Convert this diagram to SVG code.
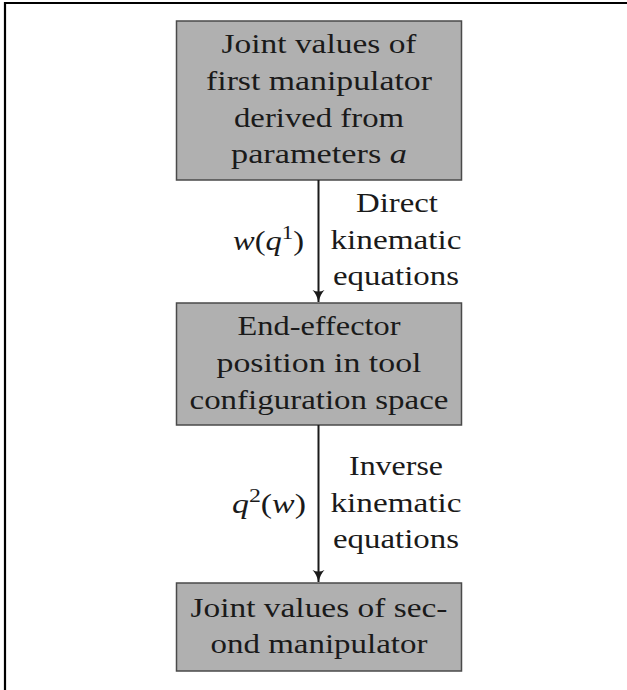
<svg xmlns="http://www.w3.org/2000/svg" width="627" height="690" viewBox="0 0 627 690">
  <style>
    .box { fill: #b0b0b0; stroke: #4a4a4a; stroke-width: 1.5; }
    text { font-family: 'Liberation Serif', 'Times New Roman', serif; font-size: 27px; fill: #1a1a1a; }
    .t { text-anchor: middle; }
    .m { font-style: italic; }
    .edge { stroke: #1a1a1a; stroke-width: 2; fill: none; }
    .frame { stroke: #000; stroke-width: 2.2; fill: none; }
  </style>
  <defs>
    <marker id="arrow" markerUnits="userSpaceOnUse" markerWidth="14" markerHeight="16" refX="12" refY="6" orient="auto">
      <path d="M0,0 Q4,4 12,6 Q4,8 0,12 Q3,6 0,0 Z" fill="#1a1a1a"/>
    </marker>
  </defs>

  <rect width="627" height="690" fill="#ffffff"/>
  <!-- page frame (top and left edges) -->
  <path class="frame" d="M5,690 V3 H627"/>

  <g id="node-first-joints" font-family="Liberation Serif, serif">
    <rect class="box" x="176.5" y="21" width="285" height="159"/>
    <text class="t" x="319" y="53" textLength="195" lengthAdjust="spacingAndGlyphs">Joint values of</text>
    <text class="t" x="319" y="90" textLength="226" lengthAdjust="spacingAndGlyphs">first manipulator</text>
    <text class="t" x="319" y="127" textLength="170" lengthAdjust="spacingAndGlyphs">derived from</text>
    <text class="t" x="319" y="163" textLength="176" lengthAdjust="spacingAndGlyphs">parameters <tspan class="m">a</tspan></text>
  </g>

  <g id="node-end-effector">
    <rect class="box" x="176.5" y="303" width="285" height="122"/>
    <text class="t" x="319" y="335" textLength="163" lengthAdjust="spacingAndGlyphs">End-effector</text>
    <text class="t" x="319" y="372" textLength="205" lengthAdjust="spacingAndGlyphs">position in tool</text>
    <text class="t" x="319" y="409" textLength="259" lengthAdjust="spacingAndGlyphs">configuration space</text>
  </g>

  <g id="node-second-joints">
    <rect class="box" x="176.5" y="583" width="285" height="88"/>
    <text class="t" x="319" y="617" textLength="257" lengthAdjust="spacingAndGlyphs">Joint values of sec-</text>
    <text class="t" x="319" y="653" textLength="217" lengthAdjust="spacingAndGlyphs">ond manipulator</text>
  </g>

  <g id="connectors">
    <line class="edge" x1="318.5" y1="180" x2="318.5" y2="302" marker-end="url(#arrow)"/>
    <line class="edge" x1="318.5" y1="425" x2="318.5" y2="582" marker-end="url(#arrow)"/>
  </g>

  <g id="edge-labels">
    <text class="t" x="397" y="212" textLength="82" lengthAdjust="spacingAndGlyphs">Direct</text>
    <text class="t" x="396" y="249" textLength="131" lengthAdjust="spacingAndGlyphs">kinematic</text>
    <text class="t" x="396" y="285" textLength="126" lengthAdjust="spacingAndGlyphs">equations</text>
    <text x="233" y="250" textLength="71" lengthAdjust="spacingAndGlyphs"><tspan class="m">w</tspan>(<tspan class="m">q</tspan><tspan font-size="19" dy="-11">1</tspan><tspan dy="11">)</tspan></text>

    <text class="t" x="396" y="475" textLength="94" lengthAdjust="spacingAndGlyphs">Inverse</text>
    <text class="t" x="396" y="512" textLength="131" lengthAdjust="spacingAndGlyphs">kinematic</text>
    <text class="t" x="396" y="548" textLength="126" lengthAdjust="spacingAndGlyphs">equations</text>
    <text x="232" y="513" textLength="74" lengthAdjust="spacingAndGlyphs"><tspan class="m">q</tspan><tspan font-size="19" dy="-11">2</tspan><tspan dy="11">(</tspan><tspan class="m">w</tspan>)</text>
  </g>
</svg>
